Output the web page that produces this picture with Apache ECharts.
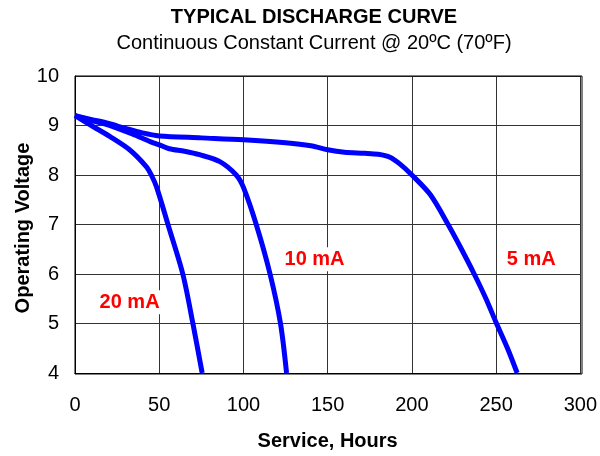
<!DOCTYPE html>
<html>
<head>
<meta charset="utf-8">
<script src="https://cdn.jsdelivr.net/npm/echarts@6/dist/echarts.min.js"></script>
<style>html,body{margin:0;padding:0;background:#fff}#c{width:600px;height:456px}</style>
</head>
<body>
<div id="c"></div>
<script>
var xTicks = [0, 50, 100, 150, 200, 250, 300];
var yTicks = [4, 5, 6, 7, 8, 9, 10];

var hours5mA = [0, 10, 20, 30, 40, 50, 75, 100, 125, 140, 150, 160, 172, 180, 187, 193, 200, 211, 222, 229, 237, 244, 250, 257, 262.5];
var volts5mA = [9.2, 9.12, 9.04, 8.94, 8.85, 8.79, 8.75, 8.71, 8.65, 8.59, 8.51, 8.46, 8.44, 8.42, 8.36, 8.22, 8.0, 7.6, 6.97, 6.53, 6.0, 5.5, 5.02, 4.48, 4.0];

var hours10mA = [0, 10, 20, 34, 45, 50, 56, 65, 74, 86, 95.7, 100, 107.6, 115.8, 122, 125.6];
var volts10mA = [9.2, 9.1, 9.01, 8.83, 8.67, 8.61, 8.53, 8.48, 8.41, 8.27, 8.0, 7.75, 7.0, 6.0, 5.0, 4.0];

var hours20mA = [0, 10.7, 20.6, 32.4, 42.3, 45.3, 48.5, 55.2, 64, 70, 75.5];
var volts20mA = [9.2, 8.98, 8.78, 8.51, 8.17, 8.0, 7.75, 7.0, 6.0, 5.0, 4.0];

var seriesNames = ['5 mA', '10 mA', '20 mA'];
var labelPos = [[270.9, 6.3], [142.2, 6.3], [32.4, 5.43]];

function zip(a, b) { return a.map(function (v, i) { return [v, b[i]]; }); }

var FONT = "'Liberation Sans', Arial, sans-serif";
var chart = echarts.init(document.getElementById('c'), null, {renderer: 'canvas'});

var data = [zip(hours5mA, volts5mA), zip(hours10mA, volts10mA), zip(hours20mA, volts20mA)];

chart.setOption({
  animation: false,
  backgroundColor: '#fff',
  title: {
    text: 'TYPICAL DISCHARGE CURVE',
    subtext: 'Continuous Constant Current @ 20ºC (70ºF)',
    left: 309,
    textAlign: 'center',
    top: 2,
    itemGap: 6,
    textStyle: {fontFamily: FONT, fontSize: 20, fontWeight: 'bold', color: '#000'},
    subtextStyle: {fontFamily: FONT, fontSize: 20, color: '#000'}
  },
  grid: {left: 75, right: 18, top: 76, bottom: 82, containLabel: false},
  xAxis: {
    type: 'value', min: xTicks[0], max: xTicks[xTicks.length - 1], interval: 50,
    name: 'Service, Hours', nameLocation: 'middle', nameGap: 58,
    nameTextStyle: {fontFamily: FONT, fontSize: 20, fontWeight: 'bold', color: '#000'},
    axisLine: {show: true, lineStyle: {color: '#000', width: 1}},
    axisTick: {show: false},
    axisLabel: {fontFamily: FONT, fontSize: 20, color: '#000', margin: 22},
    splitLine: {show: true, lineStyle: {color: '#333', width: 1}}
  },
  yAxis: {
    type: 'value', min: yTicks[0], max: yTicks[yTicks.length - 1], interval: 1,
    axisLine: {show: true, lineStyle: {color: '#000', width: 1}},
    axisTick: {show: false},
    axisLabel: {fontFamily: FONT, fontSize: 20, color: '#000', margin: 16},
    splitLine: {show: true, lineStyle: {color: '#333', width: 1}}
  },
  graphic: [{
    type: 'rect', shape: {x: 75, y: 76, width: 507, height: 298}, silent: true, z: 1,
    style: {fill: 'none', stroke: '#000', lineWidth: 1}
  }, {
    type: 'text', x: 23, y: 228, rotation: Math.PI / 2, silent: true,
    style: {text: 'Operating Voltage', fontFamily: FONT, fontSize: 20, fontWeight: 'bold',
            fill: '#000', align: 'center', verticalAlign: 'middle'}
  }],
  series: data.map(function (d, i) {
    return {
      type: 'line', name: seriesNames[i], data: d, smooth: 0.3, showSymbol: false,
      lineStyle: {color: '#0000ff', width: 5}, z: 3,
      markPoint: {
        symbol: 'circle', symbolSize: 0, z: 5,
        data: [{coord: labelPos[i], value: seriesNames[i]}],
        label: {
          show: true, position: 'inside', formatter: seriesNames[i],
          fontFamily: FONT, fontSize: 20, fontWeight: 'bold', color: '#ff0000',
          lineHeight: 20,
          backgroundColor: '#fff', padding: [3, 4, 1, 4]
        }
      }
    };
  })
});
</script>
</body>
</html>
